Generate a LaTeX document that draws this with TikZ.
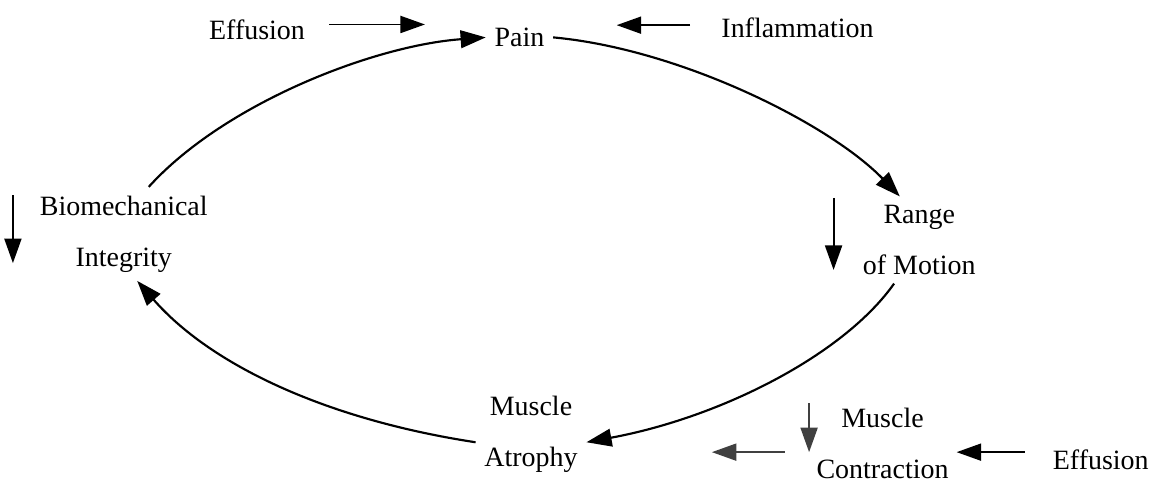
\documentclass[tikz,border=0pt]{standalone}
\usepackage{fontspec}
\setmainfont{Liberation Serif}
\newfontfamily\figfont{Liberation Serif}
\usepackage{tikz}
\usetikzlibrary{arrows.meta}

\begin{document}
\begin{tikzpicture}[
        lbl/.style={align=center, inner sep=3.5pt, font=\figfont\fontsize{11.7pt}{21.3pt}\selectfont},
        arr/.style={-{Triangle[length=3.6mm, width=2.5mm]}, line width=0.8pt},
        cyc/.style={-{Triangle[length=3.7mm, width=2.6mm]}, line width=0.9pt}]
        \useasboundingbox (0,0) rectangle (17.12,7.12);
        % cycle
        \node[lbl] (pain) at (7.64,6.57) {Pain};
        \node[lbl] (rom) at (13.52,3.59) {Range\\of Motion};
        \node[lbl] (atr) at (7.81,0.73) {Muscle\\Atrophy};
        \node[lbl] (bio) at (1.82,3.68) {Biomechanical\\Integrity};
        % side factors
        \node[lbl] (eff1) at (3.78,6.68) {Effusion};
        \node[lbl] (infl) at (11.73,6.71) {Inflammation};
        \node[lbl] (mc) at (12.98,0.60) {Muscle\\Contraction};
        \node[lbl] (eff2) at (16.19,0.36) {Effusion};
        \coordinate (e1a) at (4.84,6.76);
        \coordinate (e1b) at (6.25,6.76);
        \coordinate (ina) at (10.15,6.75);
        \coordinate (inb) at (9.07,6.75);
        \coordinate (bia) at (0.19,4.25);
        \coordinate (bib) at (0.19,3.25);
        \coordinate (roa) at (12.26,4.21);
        \coordinate (rob) at (12.26,3.15);
        \coordinate (mca) at (11.90,1.19);
        \coordinate (mcb) at (11.90,0.47);
        \coordinate (mcc) at (11.54,0.47);
        \coordinate (mcd) at (10.47,0.47);
        \coordinate (e2a) at (15.07,0.47);
        \coordinate (e2b) at (14.07,0.47);
        \draw[cyc] (bio.62) .. controls (3.3,5.6) and (5.5,6.45) .. (pain.west);
        \draw[cyc] (pain.east) .. controls (10.0,6.4) and (12.2,5.3) .. (rom.114);
        \draw[cyc] (rom.-120) .. controls (12.41,1.90) and (10.6,0.98) .. (atr.-8);
        \draw[cyc] (atr.188) .. controls (4.8,0.95) and (3.1,1.75) .. (bio.-74);
        \draw[arr] (e1a) -- (e1b);
        \draw[arr] (ina) -- (inb);
        \draw[arr] (bia) -- (bib);
        \draw[arr] (roa) -- (rob);
        \draw[arr, black!75] (mca) -- (mcb);
        \draw[arr, black!75] (mcc) -- (mcd);
        \draw[arr] (e2a) -- (e2b);
    \end{tikzpicture}
\end{document}
